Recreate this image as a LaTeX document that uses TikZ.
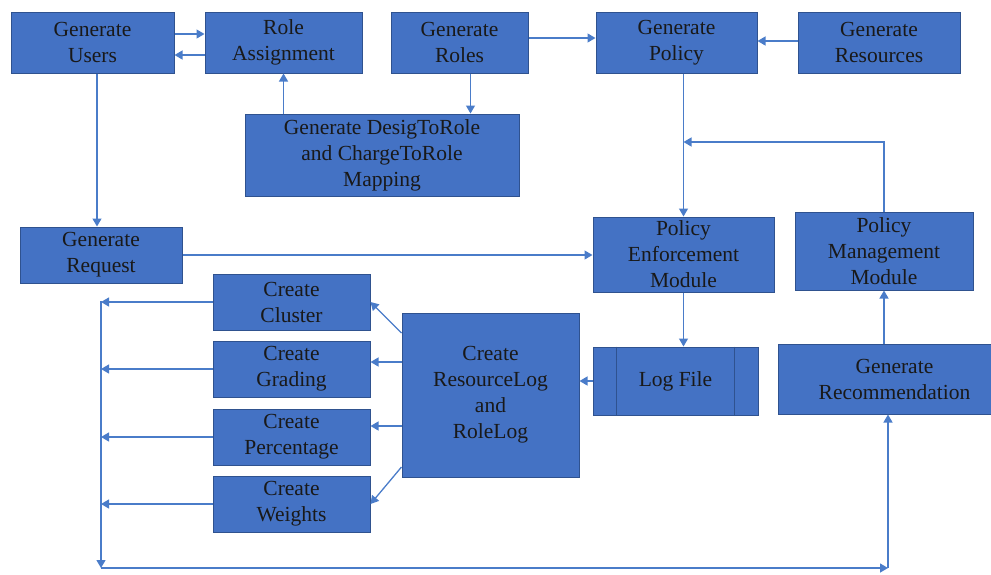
\documentclass[tikz,border=0pt]{standalone}
\usepackage{fontspec}
\setmainfont{Liberation Serif}
\usetikzlibrary{arrows.meta}

\definecolor{boxblue}{HTML}{4472C4}
\definecolor{boxedge}{HTML}{2F528F}
\definecolor{lineblue}{HTML}{4A7CC9}

\tikzset{
  box/.style={draw=boxedge, line width=1pt, fill=boxblue, text=black!90,
    align=center, inner sep=0pt, font=\fontsize{21.5}{26}\selectfont},
  arr/.style={draw=lineblue, line width=1.3pt, -{Triangle[length=8pt,width=9pt]}}
}

\begin{document}
\begin{tikzpicture}[x=1pt,y=-1pt]
   \useasboundingbox (0,0) rectangle (991,574);

   % top row
   \node[box, minimum width=163, minimum height=61] (gu)   at (92.5,42.5)  {Generate\\Users};
   \node[box, minimum width=157, minimum height=61] (ra)   at (283.5,42.5) {Role\\Assignment};
   \node[box, minimum width=137, minimum height=61] (gro)  at (459.5,42.5) {Generate\\Roles};
   \node[box, minimum width=161, minimum height=61] (gp)   at (676.5,42.5) {Generate\\Policy};
   \node[box, minimum width=162, minimum height=61] (gres) at (879,42.5)   {Generate\\Resources};
   \node[box, minimum width=274, minimum height=82] (map)  at (382,155)    {Generate DesigToRole\\and ChargeToRole\\Mapping};

   % middle
   \node[box, minimum width=162, minimum height=56] (greq) at (101,255)    {Generate\\Request};
   \node[box, minimum width=181, minimum height=75] (pem)  at (683.5,254.5) {Policy\\Enforcement\\Module};
   \node[box, minimum width=178, minimum height=78] (pmm)  at (884,251)    {Policy\\Management\\Module};

   % log side
   \node[box, minimum width=157, minimum height=56] (cc)   at (291.5,302) {Create\\Cluster};
   \node[box, minimum width=157, minimum height=56] (cg)   at (291.5,369) {Create\\Grading};
   \node[box, minimum width=157, minimum height=56] (cp)   at (291.5,437) {Create\\Percentage};
   \node[box, minimum width=157, minimum height=56] (cw)   at (291.5,504) {Create\\Weights};
   \node[box, minimum width=177, minimum height=164] (crl) at (490.5,395) {Create\\ResourceLog\\and\\RoleLog};
   \node[box, minimum width=165, minimum height=68] (lf)   at (675.5,381) {Log File};
   \node[box, minimum width=213, minimum height=70] (rec)  at (884.5,379) {\hspace*{20pt}Generate\\\hspace*{20pt}Recommendation};

   \draw[boxedge, line width=1pt] ([xshift=24pt]lf.north west) -- ([xshift=24pt]lf.south west);
   \draw[boxedge, line width=1pt] ([xshift=-24pt]lf.north east) -- ([xshift=-24pt]lf.south east);

   \coordinate (fb) at (683.5,142);
   \coordinate (lt) at (101,301);
   \coordinate (lb) at (101,568);
   \coordinate (rb) at (888,568);

   \draw[arr] ([yshift=8.5pt]gu.east) -- ([yshift=8.5pt]ra.west);
   \draw[arr] ([yshift=-12.5pt]ra.west) -- ([yshift=-12.5pt]gu.east);
   \draw[arr] (map.north -| ra.south) -- (ra.south);
   \draw[arr] ([xshift=11pt]gro.south) -- ([xshift=11pt]gro.south |- map.north);
   \draw[arr] ([yshift=4.5pt]gro.east) -- ([yshift=4.5pt]gp.west);
   \draw[arr] ([yshift=1.5pt]gres.west) -- ([yshift=1.5pt]gp.east);
   \draw[arr] ([xshift=4.5pt]gu.south) -- ([xshift=4.5pt]gu.south |- greq.north);
   \draw[arr] (greq.east) -- (greq.east -| pem.west);
   \draw[arr] (pem.north |- gp.south) -- (pem.north);
   \draw[arr] (pmm.north) |- (fb);
   \draw[arr] (pem.south) -- (pem.south |- lf.north);
   \draw[arr] (lf.west) -- (lf.west -| crl.east);
   \draw[arr] (rec.north -| pmm.south) -- (pmm.south);

   \draw[arr] ([yshift=62pt]crl.west) -- (cc.east);
   \draw[arr] ([yshift=33pt]crl.west) -- ([yshift=33pt]crl.west -| cg.east);
   \draw[arr] ([yshift=-31pt]crl.west) -- ([yshift=-31pt]crl.west -| cp.east);
   \draw[arr] ([yshift=-72pt]crl.west) -- (cw.east);

   \draw[arr] (cc.west) -- (cc.west -| lt);
   \draw[arr] (cg.west) -- (cg.west -| lt);
   \draw[arr] (cp.west) -- (cp.west -| lt);
   \draw[arr] (cw.west) -- (cw.west -| lt);
   \draw[arr] (lt) -- (lb);
   \draw[arr] (lb) -- (rb);
   \draw[arr] (rb) -- (rb |- rec.south);

\end{tikzpicture}
\end{document}
